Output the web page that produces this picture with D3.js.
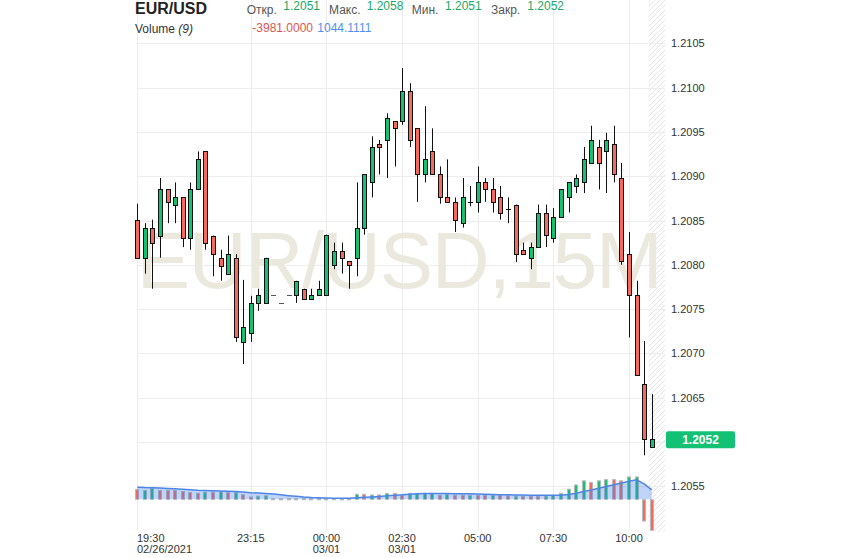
<!DOCTYPE html>
<html><head><meta charset="utf-8">
<script src="https://cdnjs.cloudflare.com/ajax/libs/d3/7.8.5/d3.min.js"></script>
<style>
html,body{margin:0;padding:0;background:#fff;}
svg{display:block;font-family:"Liberation Sans",Arial,Helvetica,sans-serif;}
</style></head><body>
<svg id="chart" width="845" height="558"></svg>
<script>
// ---------- data ----------
const symbol = "EUR/USD";
const watermark = "EUR/USD,15M";
const headerLabels = ["Откр.", "Макс.", "Мин.", "Закр."];
const headerValues = ["1.2051", "1.2058", "1.2051", "1.2052"];
const volumeTitle = "Volume";
const volumePeriod = "(9)";
const volumeReadout = ["-3981.0000", "1044.1111"];
const lastPriceLabel = "1.2052";

const open = [1.20851,1.20808,1.20842,1.20833,1.20885,1.20868,1.20876,1.20830,1.20885,1.20928,
1.20833,1.20808,1.20790,1.20808,1.20713,1.20723,1.20757,1.20757,1.20766,1.20757,
1.20766,1.20766,1.20773,1.20761,1.20766,1.20766,1.20800,1.20816,1.20804,1.20808,
1.20842,1.20893,1.20936,1.20941,1.20962,1.20962,1.20996,1.20954,1.20902,1.20928,
1.20902,1.20876,1.20871,1.20847,1.20871,1.20871,1.20893,1.20885,1.20876,1.20863,
1.20868,1.20817,1.20808,1.20820,1.20859,1.20830,1.20854,1.20876,1.20889,1.20893,
1.20915,1.20933,1.20928,1.20936,1.20898,1.20812,1.20766,1.20666,1.20594];
const high = [1.20869,1.20847,1.20851,1.20898,1.20885,1.20893,1.20876,1.20893,1.20928,1.20928,
1.20833,1.20817,1.20833,1.20812,1.20783,1.20765,1.20773,1.20808,1.20766,1.20757,
1.20766,1.20782,1.20773,1.20773,1.20782,1.20834,1.20825,1.20825,1.20804,1.20893,
1.20902,1.20945,1.20941,1.20971,1.20962,1.21022,1.21005,1.20954,1.20979,1.20954,
1.20911,1.20919,1.20876,1.20898,1.20889,1.20911,1.20898,1.20898,1.20889,1.20876,
1.20868,1.20825,1.20825,1.20868,1.20868,1.20864,1.20885,1.20893,1.20902,1.20933,
1.20957,1.20941,1.20949,1.20957,1.20915,1.20837,1.20782,1.20714,1.20654];
const low = [1.20808,1.20790,1.20773,1.20808,1.20847,1.20847,1.20820,1.20817,1.20885,1.20817,
1.20787,1.20782,1.20790,1.20713,1.20688,1.20713,1.20748,1.20757,1.20766,1.20757,
1.20766,1.20757,1.20761,1.20761,1.20766,1.20766,1.20795,1.20790,1.20773,1.20787,
1.20834,1.20876,1.20902,1.20898,1.20911,1.20958,1.20933,1.20871,1.20893,1.20902,
1.20869,1.20871,1.20837,1.20842,1.20866,1.20859,1.20871,1.20859,1.20851,1.20847,
1.20803,1.20812,1.20795,1.20820,1.20820,1.20825,1.20854,1.20859,1.20881,1.20881,
1.20915,1.20885,1.20881,1.20893,1.20800,1.20718,1.20676,1.20585,1.20594];
const close = [1.20808,1.20842,1.20825,1.20885,1.20871,1.20876,1.20830,1.20885,1.20919,1.20825,
1.20812,1.20799,1.20812,1.20718,1.20730,1.20757,1.20766,1.20808,1.20766,1.20757,
1.20766,1.20782,1.20761,1.20766,1.20773,1.20834,1.20816,1.20808,1.20800,1.20842,
1.20902,1.20933,1.20933,1.20966,1.20954,1.20996,1.20941,1.20902,1.20919,1.20902,
1.20876,1.20871,1.20851,1.20876,1.20871,1.20893,1.20885,1.20871,1.20859,1.20863,
1.20812,1.20812,1.20820,1.20859,1.20834,1.20854,1.20885,1.20893,1.20898,1.20919,
1.20941,1.20915,1.20941,1.20902,1.20804,1.20766,1.20676,1.20603,1.20603];

const volume = [1180,1090,1345,1090,1090,1090,965,840,760,890,
890,925,840,840,585,330,420,460,120,110,
120,110,130,110,120,110,120,110,120,640,
640,560,560,740,740,520,740,740,740,740,
520,640,520,520,520,520,520,520,520,460,
420,420,420,420,420,520,740,1230,1720,2200,
2000,2200,2330,2330,2200,2650,2650,-2520,-3981];
const volumeUp = [0,1,1,0,0,0,0,0,0,1, 0,1,0,1,0,0,1,1,0,0, 1,1,0,1,1,1,1,0,0,1,
0,1,0,1,0,0,1,1,1,1, 0,1,0,0,1,0,0,1,0,0, 1,0,0,0,1,1,1,1,1,1, 0,1,1,0,0,1,1,0,0];
const volumePrior = [1500,1450,1500,1420,1450,1380,1420,1350];
const maPeriod = 9;

const priceTicks = [1.2055,1.2060,1.2065,1.2070,1.2075,1.2080,1.2085,1.2090,1.2095,1.2100,1.2105];
const tickIndex = [0,15,25,35,45,55,65];
const tickTime = ["19:30","23:15","00:00","02:30","05:00","07:30","10:00"];
const tickDate = ["02/26/2021","","03/01","03/01","","",""];

// ---------- drawing ----------
const W = 845, H = 558;
const plot = {left: 137, right: 665, top: 0, bottom: 530.6};
const GREEN = "#12c174", RED = "#f46a5c";

const svg = d3.select("#chart");
const n = close.length;
const x = d3.scaleLinear().domain([0, n - 1]).range([137.3, 137.3 + 7.565 * (n - 1)]);
const y = d3.scaleLinear().domain([1.2050, 1.2105]).range([plot.bottom, 43.3]);
const vy = d3.scaleLinear().domain([0, 1160]).range([499.3, 489.3]);

const defs = svg.append("defs");
const pat = defs.append("pattern").attr("id", "hatch").attr("patternUnits", "userSpaceOnUse")
  .attr("width", 5).attr("height", 5);
pat.append("path").attr("d", "M0,5 L5,0 M-1,1 L1,-1 M4,6 L6,4")
  .attr("stroke", "#e4e4e4").attr("stroke-width", 1);
defs.append("clipPath").attr("id", "plotclip").append("rect")
  .attr("x", plot.left - 4).attr("y", plot.top).attr("width", plot.right - plot.left + 4).attr("height", plot.bottom - plot.top);

// hatched future area
svg.append("rect").attr("x", x(n - 1) - 3).attr("y", 0)
  .attr("width", plot.right - (x(n - 1) - 3)).attr("height", plot.bottom + 1)
  .attr("fill", "url(#hatch)");

// grid
const grid = svg.append("g").attr("stroke", "#ededed").attr("stroke-width", 1);
priceTicks.forEach(t => {
  const yy = Math.round(y(t)) + 0.5;
  grid.append("line").attr("x1", plot.left).attr("x2", plot.right).attr("y1", yy).attr("y2", yy);
});
tickIndex.forEach(i => {
  const xx = Math.round(x(i)) + 0.5;
  grid.append("line").attr("x1", xx).attr("x2", xx).attr("y1", 0).attr("y2", plot.bottom);
});

// watermark
svg.append("text").attr("x", 136.7).attr("y", 287.5)
  .attr("font-size", 80).attr("fill", "#ebe8de")
  .attr("textLength", 526).attr("lengthAdjust", "spacing")
  .text(watermark);

// volume pane
const vg = svg.append("g").attr("clip-path", "url(#plotclip)");
const allVol = volumePrior.concat(volume);
const ma = volume.map((v, i) => d3.mean(allVol.slice(i + volumePrior.length - maPeriod + 1, i + volumePrior.length + 1)));
vg.selectAll("rect.vol").data(volume).join("rect").attr("class", "vol")
  .attr("x", (d, i) => Math.round(x(i)) - 1.5)
  .attr("width", 3)
  .attr("y", d => Math.min(vy(d), vy(0)) + 0.5)
  .attr("height", d => Math.max(1, Math.abs(vy(d) - vy(0)) - 0.5))
  .attr("fill", (d, i) => volumeUp[i] ? GREEN : RED)
  .attr("stroke", "#b9b9b9").attr("stroke-width", 1);
vg.append("path").datum(ma)
  .attr("d", d3.area().x((d, i) => x(i)).y0(vy(0)).y1(d => vy(d)))
  .attr("fill", "rgba(61,124,230,0.33)");
vg.append("path").datum(ma)
  .attr("d", d3.line().x((d, i) => x(i)).y(d => vy(d)))
  .attr("fill", "none").attr("stroke", "#4f86e6").attr("stroke-width", 1.5);

// candles
const cg = svg.append("g");
d3.range(n).forEach(i => {
  const cx = Math.round(x(i));
  const up = close[i] >= open[i];
  const g = cg.append("g");
  if (high[i] > low[i]) {
    g.append("line").attr("x1", cx + 0.5).attr("x2", cx + 0.5)
      .attr("y1", y(high[i])).attr("y2", y(low[i]))
      .attr("stroke", "#111").attr("stroke-width", 1);
  }
  if (Math.abs(close[i] - open[i]) < 1e-7) {
    const yy = Math.round(y(close[i])) + 0.5;
    g.append("line").attr("x1", cx - 2).attr("x2", cx + 3).attr("y1", yy).attr("y2", yy)
      .attr("stroke", high[i] > low[i] ? "#111" : "#555").attr("stroke-width", 1);
  } else {
    const top = y(Math.max(open[i], close[i])), bot = y(Math.min(open[i], close[i]));
    g.append("rect").attr("x", cx - 1.5).attr("width", 4)
      .attr("y", Math.round(top) + 0.5).attr("height", Math.max(1, Math.round(bot) - Math.round(top)))
      .attr("fill", up ? GREEN : RED).attr("stroke", "#111").attr("stroke-width", 1);
  }
});

// y axis labels
const yLast = y(close[n - 1]);
const ya = svg.append("g").attr("font-size", 11).attr("fill", "#333");
priceTicks.forEach(t => {
  if (Math.abs(y(t) - yLast) < 12) return;
  ya.append("text").attr("x", 671).attr("y", y(t) + 4).text(t.toFixed(4));
});
// last price tag
svg.append("rect").attr("x", 666).attr("y", yLast - 8).attr("width", 69).attr("height", 17)
  .attr("rx", 2).attr("fill", GREEN);
svg.append("text").attr("x", 700.5).attr("y", yLast + 4.5).attr("text-anchor", "middle")
  .attr("font-size", 12).attr("font-weight", "bold").attr("fill", "#fff").text(lastPriceLabel);

// x axis labels
const xa = svg.append("g").attr("font-size", 11).attr("fill", "#333");
tickIndex.forEach((i, k) => {
  const anchor = k === 0 ? "start" : "middle";
  const xx = k === 0 ? plot.left : x(i);
  xa.append("text").attr("x", xx).attr("y", 542).attr("text-anchor", anchor).text(tickTime[k]);
  if (tickDate[k]) xa.append("text").attr("x", xx).attr("y", 552.5).attr("text-anchor", anchor).text(tickDate[k]);
});

// header
svg.append("text").attr("x", 135).attr("y", 13.5).attr("font-size", 16).attr("font-weight", "bold")
  .attr("fill", "#222").text(symbol);
const hx = [[246.7, 283.3], [329, 366.7], [411.7, 445], [491, 527.3]];
headerLabels.forEach((l, k) => {
  svg.append("text").attr("x", hx[k][0]).attr("y", 13.5).attr("font-size", 12).attr("fill", "#555").text(l);
  svg.append("text").attr("x", hx[k][1]).attr("y", 10).attr("font-size", 12).attr("fill", "#1aa866").text(headerValues[k]);
});
const vt = svg.append("text").attr("x", 135).attr("y", 32.5).attr("font-size", 12).attr("fill", "#333");
vt.append("tspan").text(volumeTitle + " ");
vt.append("tspan").attr("font-style", "italic").text(volumePeriod);
svg.append("text").attr("x", 252.3).attr("y", 32).attr("font-size", 12).attr("fill", "#e0554c").text(volumeReadout[0]);
svg.append("text").attr("x", 317.3).attr("y", 32).attr("font-size", 12).attr("fill", "#4f8fee").text(volumeReadout[1]);
</script>
</body></html>
